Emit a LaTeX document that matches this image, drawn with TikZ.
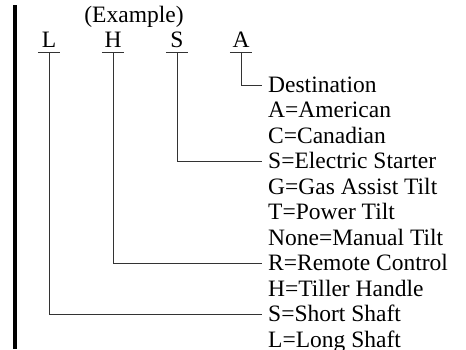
\documentclass[tikz,border=0pt]{standalone}
\usepackage{fontspec}
\setmainfont{Liberation Serif}
\usetikzlibrary{positioning}

\begin{document}
\begin{tikzpicture}[
  x=1pt, y=-1pt,
  codeletter/.style={font=\fontsize{23.5}{25}\selectfont, inner sep=0pt,
                     minimum width=22pt, text height=16pt, text depth=5pt, anchor=base},
  item/.style={font=\fontsize{23.5}{25}\selectfont, inner sep=0pt,
               text height=19.5pt, text depth=6pt, anchor=base west},
  leader/.style={draw=black!80, line width=0.8pt}
]
  \useasboundingbox (0,0) rectangle (466,349);

  % Left bar
  \coordinate (bartop) at (15,5);
  \coordinate (barbot) at (15,349);
  \draw[line width=3.5pt] (bartop) -- (barbot);

  % Code letters
  \node[codeletter, minimum width=0pt] (example) at (134,22) {(Example)};
  \node[codeletter] (codeL) at (49,47)  {L};
  \node[codeletter] (codeH) at (113,47) {H};
  \node[codeletter] (codeS) at (177,47) {S};
  \node[codeletter] (codeA) at (241,47) {A};
  \foreach \c in {codeL,codeH,codeS,codeA}
    \draw[leader] (\c.south west) -- (\c.south east);

  % Meanings
  \foreach \nm/\txt [count=\i from 0] in {dest/Destination, amer/A=American,
      canad/C=Canadian, elec/S=Electric Starter, gas/G=Gas Assist Tilt,
      power/T=Power Tilt, manual/None=Manual Tilt, remote/R=Remote Control,
      tiller/H=Tiller Handle, short/S=Short Shaft, long/L=Long Shaft}
    \node[item] (\nm) at (268,92+25.5*\i) {\txt};

  % Leaders
  \draw[leader] (codeA.south) |- ([xshift=-6pt]dest.west);
  \draw[leader] (codeS.south) |- ([xshift=-6pt]elec.west);
  \draw[leader] (codeH.south) |- ([xshift=-6pt]remote.west);
  \draw[leader] (codeL.south) |- ([xshift=-6pt]short.west);
\end{tikzpicture}
\end{document}
